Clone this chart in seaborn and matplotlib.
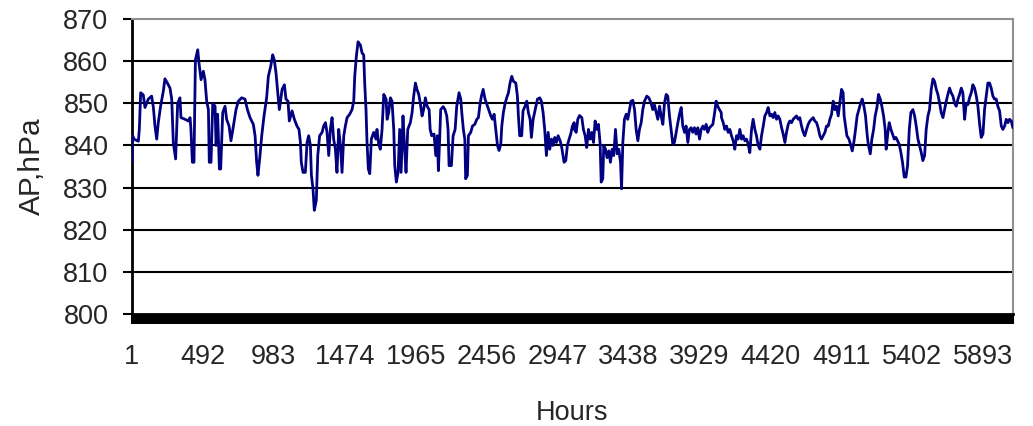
import matplotlib
matplotlib.use("Agg")
import matplotlib.pyplot as plt
from matplotlib.ticker import MultipleLocator
import numpy as np
import pandas as pd
import seaborn as sns

# ---- data (hour index, air pressure in hPa) ----
hours_a = [1, 6, 15, 45, 52, 61, 79, 91, 114, 137, 149, 160, 172, 183, 199, 218, 229, 246, 264, 276,
           287, 303, 317, 333, 340, 368, 391, 403, 409, 419, 430, 440, 456, 465, 479, 495, 506, 518, 530, 536,
           548, 560, 576, 583, 594, 606, 615, 629, 645, 656, 673, 686, 703, 721, 737, 760, 783, 800, 818, 841,
           853, 864, 873, 887, 899, 915, 933, 945, 961, 975, 986, 998, 1010, 1021]
ap_a = [836.0, 842.3, 841.5, 841.0, 844.0, 852.5, 852.0, 849.0, 851.0, 851.7, 849.0, 844.6, 841.5, 845.4, 849.3, 852.9, 855.8, 854.8, 853.6, 851.0,
        840.7, 836.8, 850.0, 851.3, 846.6, 846.2, 845.8, 846.6, 843.8, 836.0, 836.0, 860.3, 862.7, 859.5, 855.6, 857.6, 855.6, 850.5, 848.5, 836.0,
        836.0, 850.0, 849.3, 840.0, 847.4, 834.4, 834.4, 847.8, 849.3, 846.2, 844.6, 841.1, 844.6, 848.5, 850.5, 851.3, 851.0, 848.5, 846.6, 845.0,
        842.3, 836.0, 832.9, 837.6, 842.3, 847.0, 851.3, 856.4, 858.7, 861.5, 860.3, 857.2, 852.5, 848.5]

hours_b = [1040, 1056, 1067, 1081, 1090, 1109, 1125, 1143, 1157, 1167, 1173, 1185, 1201, 1213, 1224, 1236, 1243, 1254, 1263, 1277,
           1287, 1300, 1317, 1328, 1340, 1351, 1363, 1374, 1386, 1397, 1409, 1420, 1432, 1444, 1455, 1467, 1478, 1490, 1508, 1524,
           1536, 1543, 1554, 1566, 1582, 1594, 1605, 1612, 1621, 1628, 1637, 1647, 1658, 1674, 1690, 1697, 1709, 1720, 1732, 1744,
           1760, 1767, 1778, 1790, 1801, 1813, 1820, 1831, 1843, 1854, 1864, 1877, 1887, 1898, 1910, 1928, 1940, 1951, 1963, 1974,
           1986, 1997, 2009, 2020, 2032, 2044]
ap_b = [853.3, 854.4, 851.0, 850.5, 845.8, 848.2, 846.2, 844.6, 843.8, 840.7, 836.0, 833.6, 833.6, 840.7, 842.3, 840.0, 832.9, 829.7, 824.6, 827.0,
        837.6, 842.3, 843.1, 844.6, 845.4, 843.1, 837.6, 843.8, 846.6, 841.5, 839.1, 833.6, 843.8, 840.0, 833.6, 842.3, 844.6, 846.6, 847.4, 848.5,
        850.5, 856.4, 861.1, 864.6, 863.8, 861.9, 861.5, 854.8, 848.5, 840.7, 834.4, 833.3, 841.5, 843.1, 841.5, 843.8, 840.3, 839.1, 843.8, 852.1,
        851.0, 846.2, 847.8, 851.3, 850.5, 843.8, 835.2, 831.3, 833.6, 843.8, 833.6, 847.0, 840.0, 833.6, 843.8, 845.4, 847.8, 851.7, 854.8, 853.3,
        852.1, 850.0, 847.0, 848.5, 851.3, 849.3]

hours_c = [2058, 2065, 2076, 2092, 2104, 2115, 2122, 2131, 2138, 2155, 2168, 2180, 2189, 2196, 2212, 2224, 2238, 2249, 2265, 2277,
           2284, 2295, 2305, 2311, 2323, 2330, 2346, 2358, 2374, 2388, 2399, 2411, 2420, 2432, 2445, 2462, 2473, 2485, 2496, 2508,
           2519, 2531, 2542, 2554, 2561, 2572, 2584, 2595, 2607, 2618, 2630, 2642, 2658, 2669, 2676, 2685, 2699, 2708, 2722, 2734,
           2745, 2757, 2766, 2778, 2792, 2808, 2824, 2835, 2847, 2858, 2870, 2882, 2893, 2905, 2916, 2928, 2939, 2951, 2965, 2976,
           2992, 3004, 3015, 3027, 3038, 3050, 3062]
ap_c = [848.5, 843.8, 842.3, 842.7, 837.6, 842.3, 834.0, 841.5, 848.5, 849.2, 848.5, 847.0, 843.8, 835.2, 835.2, 842.3, 843.8, 849.3, 852.5, 851.0,
        847.8, 843.8, 841.5, 832.1, 832.9, 842.3, 843.1, 844.6, 845.0, 846.2, 846.6, 850.0, 851.7, 853.3, 851.0, 849.3, 848.2, 847.0, 846.2, 847.4,
        843.8, 840.0, 838.8, 840.3, 844.6, 847.8, 850.0, 851.3, 852.5, 854.8, 856.4, 855.2, 854.8, 851.7, 847.0, 842.3, 842.3, 848.2, 849.3, 850.5,
        847.8, 846.2, 841.9, 846.2, 848.5, 851.0, 851.3, 850.5, 847.8, 843.8, 837.6, 843.1, 839.1, 841.5, 840.0, 841.9, 840.7, 842.3, 841.1, 839.5,
        836.0, 836.4, 840.0, 841.5, 842.7, 844.6, 845.4]

hours_d = [3064, 3076, 3087, 3099, 3115, 3126, 3138, 3149, 3161, 3173, 3184, 3196, 3207, 3219, 3230, 3242, 3249, 3260, 3267, 3279,
           3290, 3302, 3313, 3325, 3336, 3348, 3360, 3371, 3383, 3390, 3399, 3410, 3422, 3433, 3445, 3456, 3468, 3480, 3491, 3503,
           3514, 3526, 3537, 3549, 3565, 3579, 3595, 3606, 3618, 3630, 3641, 3653, 3664, 3676, 3687, 3699, 3710, 3722, 3733, 3745,
           3756, 3768, 3780, 3791, 3803, 3814, 3826, 3837, 3849, 3860, 3872, 3883, 3895, 3906, 3918, 3930, 3941, 3953, 3964, 3976,
           3987, 3999, 4010, 4022, 4033, 4045, 4056, 4068, 4080]
ap_d = [843.8, 843.1, 846.2, 847.1, 846.6, 843.8, 842.3, 839.5, 843.8, 841.5, 843.1, 840.7, 845.8, 843.8, 845.0, 840.3, 831.3, 832.1, 840.0, 839.1,
        837.1, 838.7, 836.0, 839.1, 837.6, 843.8, 838.0, 839.1, 836.0, 829.7, 840.7, 846.2, 847.4, 846.2, 848.5, 850.5, 850.7, 848.5, 843.8, 841.1,
        843.8, 845.4, 848.5, 850.5, 851.7, 851.3, 850.0, 848.5, 849.6, 847.8, 846.2, 849.3, 847.0, 845.0, 850.0, 852.1, 851.7, 847.0, 843.8, 840.3,
        840.7, 843.1, 845.4, 847.4, 849.0, 844.6, 843.1, 844.6, 840.7, 843.8, 844.2, 843.1, 844.2, 842.7, 844.2, 841.5, 843.8, 844.6, 843.8, 845.0,
        843.1, 844.2, 844.6, 845.0, 847.4, 850.5, 849.3, 848.5, 847.8]

hours_e = [4082, 4094, 4105, 4117, 4128, 4140, 4151, 4163, 4174, 4186, 4197, 4209, 4221, 4232, 4244, 4255, 4267, 4278, 4290, 4301,
           4313, 4324, 4336, 4348, 4359, 4371, 4382, 4394, 4405, 4417, 4428, 4440, 4451, 4463, 4474, 4486, 4498, 4509, 4521, 4532,
           4544, 4555, 4567, 4578, 4590, 4601, 4613, 4624, 4636, 4648, 4659, 4671, 4682, 4694, 4705, 4717, 4728, 4740, 4751, 4763,
           4774, 4786, 4798, 4809, 4821, 4832, 4844, 4855, 4867, 4878, 4890, 4901, 4913, 4924, 4931, 4941, 4950, 4964, 4975, 4987,
           4998, 5010, 5021, 5033, 5045, 5056, 5068, 5079, 5091, 5098]
ap_e = [846.6, 845.4, 843.8, 844.6, 843.1, 843.8, 842.3, 841.1, 839.1, 842.3, 841.5, 843.8, 841.5, 842.3, 841.1, 841.5, 840.3, 838.3, 843.8, 846.2,
        843.8, 842.3, 840.0, 839.1, 842.3, 844.6, 847.0, 847.8, 849.0, 847.0, 847.4, 846.6, 847.8, 846.2, 847.0, 846.2, 844.2, 842.7, 840.7, 843.1,
        845.0, 845.8, 845.4, 846.2, 846.6, 847.0, 846.2, 846.6, 844.6, 843.1, 842.3, 843.8, 845.0, 845.8, 846.2, 846.6, 845.8, 845.4, 844.2, 842.3,
        841.5, 842.3, 843.1, 844.6, 844.6, 846.2, 847.4, 850.5, 848.5, 849.3, 847.0, 850.0, 853.3, 852.5, 847.0, 844.6, 842.3, 841.5, 840.3, 838.7,
        840.7, 843.8, 847.0, 848.5, 850.0, 851.0, 849.3, 847.0, 842.3, 840.3]

hours_f = [5112, 5123, 5135, 5146, 5158, 5169, 5181, 5192, 5204, 5215, 5222, 5234, 5243, 5255, 5266, 5278, 5289, 5301, 5312, 5324,
           5335, 5347, 5359, 5370, 5382, 5393, 5407, 5419, 5430, 5442, 5453, 5465, 5476, 5488, 5499, 5511, 5522, 5534, 5546, 5557,
           5569, 5580, 5592, 5603, 5615, 5626, 5638, 5649, 5661, 5672, 5684, 5696, 5707, 5719, 5730, 5742, 5753, 5765, 5776, 5788,
           5799, 5811, 5822, 5834, 5846, 5857, 5869, 5880, 5892, 5903, 5915, 5926, 5938, 5949, 5961, 5972, 5984, 5995, 6007, 6019,
           6030, 6042, 6053, 6065, 6076, 6088, 6099]
ap_f = [838.0, 841.5, 843.8, 847.0, 849.0, 852.1, 851.0, 849.3, 847.0, 843.8, 839.1, 843.1, 845.4, 843.8, 842.7, 841.5, 841.9, 841.1, 840.3, 838.3,
        836.0, 832.5, 832.5, 835.2, 843.8, 847.8, 848.5, 847.0, 844.6, 841.5, 840.0, 838.3, 836.4, 837.6, 843.8, 847.0, 848.5, 853.3, 855.8, 855.2,
        853.3, 852.1, 850.0, 847.8, 846.6, 848.5, 850.5, 852.1, 853.6, 852.5, 851.7, 850.0, 849.3, 851.0, 852.1, 853.6, 852.5, 846.2, 850.0, 849.7,
        851.3, 852.5, 854.4, 853.6, 851.7, 849.3, 845.0, 841.9, 842.7, 848.5, 851.7, 854.8, 854.8, 853.6, 851.7, 851.0, 851.0, 849.3, 848.2, 844.6,
        843.8, 844.6, 846.2, 845.4, 846.2, 845.8, 844.2]

xtick_values = [1, 492, 983, 1474, 1965, 2456, 2947, 3438, 3929, 4420, 4911, 5402, 5893]
ytick_values = [800, 810, 820, 830, 840, 850, 860, 870]
grid_values = [810, 820, 830, 840, 850, 860]

df = pd.DataFrame({
    "Hours": hours_a + hours_b + hours_c + hours_d + hours_e + hours_f,
    "AP": ap_a + ap_b + ap_c + ap_d + ap_e + ap_f,
})

# ---- style ----
sns.set_style("white")
plt.rcParams["font.family"] = ["Liberation Sans", "DejaVu Sans"]

fig = plt.figure(figsize=(10.33, 4.26), dpi=100)
ax = fig.add_axes([132 / 1033, 1 - 314 / 426, 881 / 1033, 295 / 426])

for g in grid_values:
    ax.axhline(g, color="black", lw=1.5, zorder=0.5)

sns.lineplot(data=df, x="Hours", y="AP", ax=ax, color="#000080", lw=2.0,
             estimator=None, sort=False, zorder=3)

ax.set_xlim(1, 6100)
ax.set_ylim(800, 870)
ax.set_yticks(ytick_values)
ax.set_yticklabels([str(v) for v in ytick_values])
ax.set_xticks(xtick_values)
ax.set_xticklabels([str(v) for v in xtick_values])
ax.xaxis.set_minor_locator(MultipleLocator(5))

ax.tick_params(axis="y", which="major", direction="out", length=6.5, width=1.5,
               color="black", labelsize=19.5, pad=10.5, left=True)
ax.tick_params(axis="x", which="both", direction="out", length=7.5, width=1.5,
               color="black", labelsize=19.5, pad=14, bottom=True)

for side in ["left", "bottom"]:
    ax.spines[side].set_color("black")
    ax.spines[side].set_linewidth(2)
for side in ["top", "right"]:
    ax.spines[side].set_color("#909090")
    ax.spines[side].set_linewidth(1.5)

ax.set_xlabel("Hours", fontsize=19.5)
ax.set_ylabel("AP,hPa", fontsize=21.5)
ax.xaxis.set_label_coords(0.5, -0.29)
ax.yaxis.set_label_coords(-0.098, 0.5)

fig.savefig("out.png", dpi=100, facecolor="white")
